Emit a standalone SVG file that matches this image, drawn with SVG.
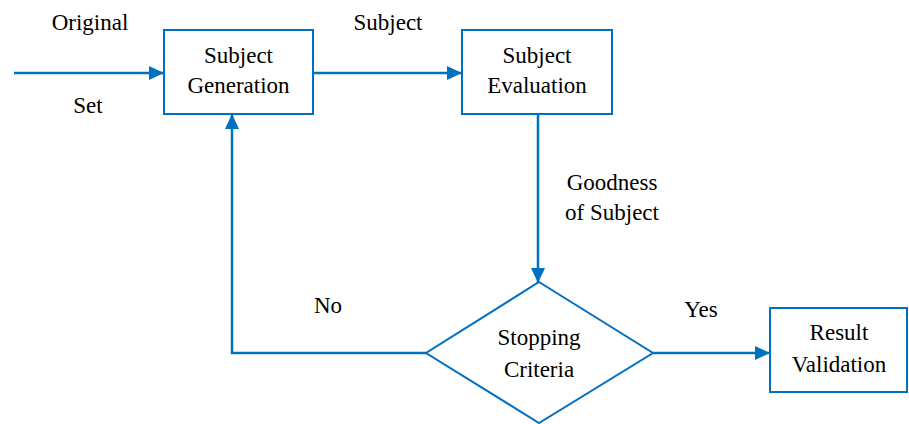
<svg xmlns="http://www.w3.org/2000/svg" width="909" height="424" viewBox="0 0 909 424">
<defs>
<marker id="ah" markerUnits="userSpaceOnUse" markerWidth="16" markerHeight="16" viewBox="0 0 16 16" refX="15" refY="8" orient="auto">
<path d="M0,1 L15,8 L0,15 Z" fill="#0070C0"/>
</marker>
</defs>
<rect width="909" height="424" fill="#fff"/>
<g id="connectors" fill="none" stroke="#0070C0" stroke-width="2.5" marker-end="url(#ah)">
<path d="M14,73 H164"/>
<path d="M313,73 H462"/>
<path d="M538,114 V283"/>
<path d="M653,353 H770"/>
<path d="M426,353 H232 V114"/>
</g>
<g id="labels">
<text x="90" y="30" font-family="Times New Roman" font-size="23" text-anchor="middle">Original</text>
<text x="88" y="113" font-family="Times New Roman" font-size="23" text-anchor="middle">Set</text>
<text x="388" y="30" font-family="Times New Roman" font-size="23" text-anchor="middle">Subject</text>
<text x="612" y="190" font-family="Times New Roman" font-size="23" text-anchor="middle">Goodness</text>
<text x="612" y="220" font-family="Times New Roman" font-size="23" text-anchor="middle">of Subject</text>
<text x="328" y="313" font-family="Times New Roman" font-size="23" text-anchor="middle">No</text>
<text x="701" y="317" font-family="Times New Roman" font-size="23" text-anchor="middle">Yes</text>
</g>
<g id="subject-generation">
<rect x="164" y="30" width="149" height="84" fill="#fff" stroke="#0070C0" stroke-width="2"/>
<text x="238.5" y="63" font-family="Times New Roman" font-size="23" text-anchor="middle">Subject</text>
<text x="238.5" y="93" font-family="Times New Roman" font-size="23" text-anchor="middle">Generation</text>
</g>
<g id="subject-evaluation">
<rect x="462" y="30" width="150" height="84" fill="#fff" stroke="#0070C0" stroke-width="2"/>
<text x="537" y="63" font-family="Times New Roman" font-size="23" text-anchor="middle">Subject</text>
<text x="537" y="93" font-family="Times New Roman" font-size="23" text-anchor="middle">Evaluation</text>
</g>
<g id="stopping-criteria">
<polygon points="539,282 653,353 539,423 426,353" fill="#fff" stroke="#0070C0" stroke-width="2"/>
<text x="539" y="345" font-family="Times New Roman" font-size="23" text-anchor="middle">Stopping</text>
<text x="539" y="377" font-family="Times New Roman" font-size="23" text-anchor="middle">Criteria</text>
</g>
<g id="result-validation">
<rect x="770" y="308" width="137" height="84" fill="#fff" stroke="#0070C0" stroke-width="2"/>
<text x="839" y="340" font-family="Times New Roman" font-size="23" text-anchor="middle">Result</text>
<text x="839" y="372" font-family="Times New Roman" font-size="23" text-anchor="middle">Validation</text>
</g>
</svg>
